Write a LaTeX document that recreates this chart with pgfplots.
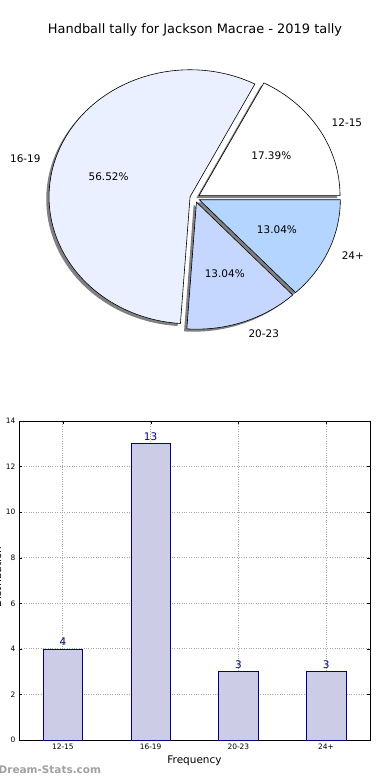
\documentclass[border=0pt]{standalone}
\usepackage{pgfplots}
\pgfplotsset{compat=1.18}
\usepackage{fontspec}
\setmainfont{DejaVu Sans}
\definecolor{cA}{RGB}{255,255,255}
\definecolor{cB}{RGB}{234,240,255}
\definecolor{cC}{RGB}{197,215,255}
\definecolor{cD}{RGB}{179,213,255}
\definecolor{barfill}{RGB}{204,204,230}
\definecolor{navyc}{RGB}{0,0,128}
\definecolor{shadowc}{RGB}{128,128,128}
\definecolor{wm}{RGB}{160,160,160}
% data: 12-15, 16-19, 20-23, 24+
\pgfmathsetmacro\tot{4+13+3+3}
\pgfmathsetmacro\aA{0}
\pgfmathsetmacro\aB{360*4/\tot}
\pgfmathsetmacro\aC{360*(4+13)/\tot}
\pgfmathsetmacro\aD{360*(4+13+3)/\tot}
\pgfmathsetmacro\aE{360}
\def\ex{0.035}
\def\pieslice#1#2#3#4{%
  \filldraw[fill=#3,#4] (axis cs:{\ex*cos((#1+#2)/2)},{\ex*sin((#1+#2)/2)})
   -- (axis cs:{\ex*cos((#1+#2)/2)+cos(#1)},{\ex*sin((#1+#2)/2)+sin(#1)})
   arc[start angle=#1,end angle=#2,x radius=141bp,y radius=127bp] -- cycle;}
\def\pielabel#1#2#3#4{%
  \node[anchor=#3,inner sep=0pt,font=\fontsize{10.5}{12}\selectfont]
   at (axis cs:{(\ex+1.1)*cos((#1+#2)/2)},{(\ex+1.1)*sin((#1+#2)/2)}) {#4};}
\def\piepct#1#2#3{%
  \node[inner sep=0pt,font=\fontsize{10.5}{12}\selectfont]
   at (axis cs:{(\ex+0.6)*cos((#1+#2)/2)},{(\ex+0.6)*sin((#1+#2)/2)}) {#3};}
\begin{document}
\begin{tikzpicture}
\useasboundingbox (0bp,0bp) rectangle (390bp,780bp);
\clip (0bp,0bp) rectangle (390bp,780bp);
\node[font=\fontsize{13}{15}\selectfont] at (195bp,750bp) {Handball tally for Jackson Macrae - 2019 tally};
% pie
\begin{axis}[at={(-2.6bp,404.2bp)}, anchor=south west, scale only axis,
  width=394.8bp, height=355.6bp, xmin=-1.4, xmax=1.4, ymin=-1.4, ymax=1.4,
  hide axis, clip=false]
  \pieslice{\aA}{\aB}{shadowc}{draw=none,xshift=-2.8bp,yshift=-2.5bp}
  \pieslice{\aB}{\aC}{shadowc}{draw=none,xshift=-2.8bp,yshift=-2.5bp}
  \pieslice{\aC}{\aD}{shadowc}{draw=none,xshift=-2.8bp,yshift=-2.5bp}
  \pieslice{\aD}{\aE}{shadowc}{draw=none,xshift=-2.8bp,yshift=-2.5bp}
  \pieslice{\aA}{\aB}{cA}{draw=black,line width=0.6bp}
  \pieslice{\aB}{\aC}{cB}{draw=black,line width=0.6bp}
  \pieslice{\aC}{\aD}{cC}{draw=black,line width=0.6bp}
  \pieslice{\aD}{\aE}{cD}{draw=black,line width=0.6bp}
  \pielabel{\aA}{\aB}{west}{12-15}
  \pielabel{\aB}{\aC}{east}{16-19}
  \pielabel{\aC}{\aD}{west}{20-23}
  \pielabel{\aD}{\aE}{west}{24+}
  \piepct{\aA}{\aB}{17.39\%}
  \piepct{\aB}{\aC}{56.52\%}
  \piepct{\aC}{\aD}{13.04\%}
  \piepct{\aD}{\aE}{13.04\%}
\end{axis}
% bars
\begin{axis}[at={(19bp,40bp)}, anchor=south west, scale only axis,
  width=351bp, height=319bp, xmin=-0.5, xmax=3.5, ymin=0, ymax=14,
  xtick={0,1,2,3}, xticklabels={12-15,16-19,20-23,24+},
  ytick={0,2,...,14},
  grid=major, grid style={dotted, line width=0.8bp, color=black!35},
  tick align=inside, major tick length=3bp, tick style={black},
  axis line style={line width=0.8bp},
  ticklabel style={font=\fontsize{7.5}{9}\selectfont},
  /pgf/number format/assume math mode=true,
  xlabel={Frequency},
  xlabel style={font=\fontsize{10.5}{12}\selectfont, at={(axis description cs:0.5,0)}, anchor=center, yshift=-21bp}]
  \addplot[ybar, bar width=0.45, fill=barfill, draw=navyc, line width=0.7bp,
    nodes near coords, nodes near coords style={text=navyc, font=\fontsize{10.5}{12}\selectfont, inner sep=3pt}]
    coordinates {(0,4) (1,13) (2,3) (3,3)};
\end{axis}
\node[rotate=90, anchor=base, font=\fontsize{10.5}{12}\selectfont] at (1bp,203bp) {Distribution};
\node[anchor=west, inner sep=0pt, font=\bfseries\fontsize{10.5}{12}\selectfont, text=wm] at (-1.5bp,10bp) {Dream-Stats.com};
\end{tikzpicture}
\end{document}
